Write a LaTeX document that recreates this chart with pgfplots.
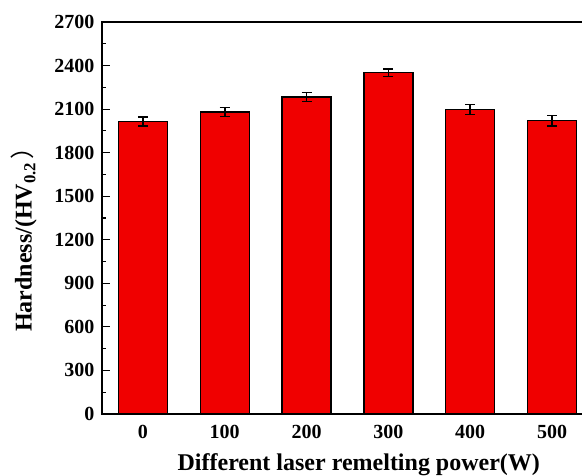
\documentclass[border=0pt]{standalone}
\usepackage{fontspec}
\setmainfont{Liberation Serif}
\newfontfamily\cjk{Noto Sans CJK SC}
\usepackage{pgfplots}
\pgfplotsset{compat=1.18}
\definecolor{barred}{RGB}{240,0,0}
\begin{document}
\begin{tikzpicture}
\begin{axis}[
  scale only axis, width=491pt, height=392pt,
  at={(0,0)}, anchor=south west,
  xmin=-0.5, xmax=5.5, ymin=0, ymax=2700,
  ybar, bar width=49pt,
  xtick={0,1,2,3,4,5}, xticklabels={0,100,200,300,400,500},
  ytick={0,300,...,2700}, minor y tick num=1,
  xtick pos=bottom, ytick pos=left,
  tick align=inside,
  x tick style={draw=none},
  major tick length=8pt, minor tick length=4.5pt,
  tick style={line width=1.2pt, black},
  axis line style={line width=1.3pt},
  /pgf/number format/assume math mode=true,
  /pgf/number format/1000 sep={},
  tick label style={font=\fontsize{20}{23}\selectfont\bfseries},
  yticklabel style={xshift=-4pt},
  xticklabel style={yshift=-8pt},
  xlabel={Different laser remelting power(W)},
  ylabel={Hardness/(HV\textsubscript{0.2}\kern3pt{\cjk\mdseries ）}},
  label style={font=\fontsize{24}{28}\selectfont\bfseries},
  xlabel style={at={(axis description cs:0.523,-0.143)}, anchor=base},
  ylabel style={at={(axis description cs:-0.159,0.46)}, anchor=center},
]
\addplot[fill=barred, draw=black, line width=1.2pt,
  error bars/.cd, y dir=both, y explicit,
  error bar style={line width=1.6pt, black},
  error mark options={rotate=90, mark size=5pt, line width=1.6pt, black}]
  coordinates {
  (0,2015) +- (0,32)
  (1,2080) +- (0,31)
  (2,2183) +- (0,31)
  (3,2350) +- (0,25)
  (4,2097) +- (0,34)
  (5,2020) +- (0,36)
  };
\end{axis}
\pgfresetboundingbox
\path[use as bounding box] (-102pt,-62pt) rectangle (480pt,414pt);
\end{tikzpicture}
\end{document}
